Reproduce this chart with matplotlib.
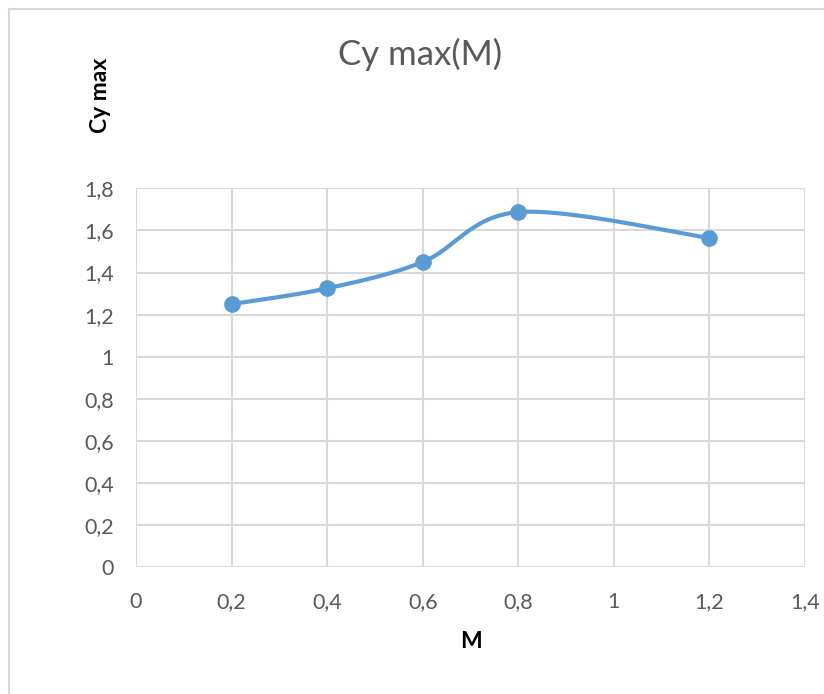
import numpy as np
import matplotlib
matplotlib.use("Agg")
import matplotlib.pyplot as plt
from matplotlib.lines import Line2D
from matplotlib.ticker import FuncFormatter

# Mach number and maximum lift coefficient
mach = [0.2, 0.4, 0.6, 0.8, 1.2]
cy_max = [1.25, 1.325, 1.45, 1.687, 1.564]
x_ticks = [0, 0.2, 0.4, 0.6, 0.8, 1.0, 1.2, 1.4]
y_ticks = [0, 0.2, 0.4, 0.6, 0.8, 1.0, 1.2, 1.4, 1.6, 1.8]

LINE = "#5b9bd5"
GRID = "#d9d9d9"
TEXT = "#595959"
FONT = ["Lato", "DejaVu Sans"]


def smooth_curve(xs, ys, n=60):
    """Cubic Bezier smoothing through every point (Catmull-Rom style)."""
    p = np.column_stack([xs, ys]).astype(float)
    ext = np.vstack([p[0], p, p[-1]])
    out = []
    t = np.linspace(0, 1, n)[:, None]
    for i in range(len(p) - 1):
        p0, p3 = ext[i + 1], ext[i + 2]
        c1 = p0 + (ext[i + 2] - ext[i]) / 6.0
        c2 = p3 - (ext[i + 3] - ext[i + 1]) / 6.0
        seg = ((1 - t) ** 3) * p0 + 3 * ((1 - t) ** 2) * t * c1 \
            + 3 * (1 - t) * t ** 2 * c2 + t ** 3 * p3
        out.append(seg if i == 0 else seg[1:])
    seg = np.vstack(out)
    return seg[:, 0], seg[:, 1]


fig = plt.figure(figsize=(8.24, 6.94), dpi=100)
ax = fig.add_axes([0.165, 0.1823, 0.812, 0.5464])

sx, sy = smooth_curve(mach, cy_max)
ax.plot(sx, sy, color=LINE, lw=3, solid_capstyle="round", zorder=3)
ax.plot(mach, cy_max, "o", color=LINE, ms=11, zorder=4)

ax.set_xlim(0, 1.4)
ax.set_ylim(0, 1.8)
ax.set_xticks(x_ticks)
ax.set_yticks(y_ticks)
fmt = FuncFormatter(lambda v, _: f"{v:g}".replace(".", ","))
ax.xaxis.set_major_formatter(fmt)
ax.yaxis.set_major_formatter(fmt)
ax.grid(True, color=GRID, lw=1.5)
ax.set_axisbelow(True)
for s in ax.spines.values():
    s.set_visible(False)
ax.tick_params(length=0, labelsize=15.5, colors=TEXT)
ax.tick_params(axis="x", pad=18)
ax.tick_params(axis="y", pad=16)
for lab in ax.get_xticklabels() + ax.get_yticklabels():
    lab.set_family(FONT)

fig.text(0.51, 0.921, "Cy max(M)", ha="center", va="center",
         fontsize=25, color=TEXT, family=FONT)
fig.text(0.122, 0.863, "Cy max", ha="center", va="center", rotation=90,
         fontsize=16.5, fontweight="bold", color="black", family=FONT)
fig.text(0.571, 0.076, "M", ha="center", va="center",
         fontsize=16.5, fontweight="bold", color="black", family=FONT)

# chart frame
fig.add_artist(Line2D([0.0115, 0.0115], [0, 0.987], color=GRID, lw=1.5,
                      transform=fig.transFigure))
fig.add_artist(Line2D([0.0115, 1.0], [0.987, 0.987], color=GRID, lw=1.5,
                      transform=fig.transFigure))

fig.savefig("out.png", dpi=100, facecolor="white")
